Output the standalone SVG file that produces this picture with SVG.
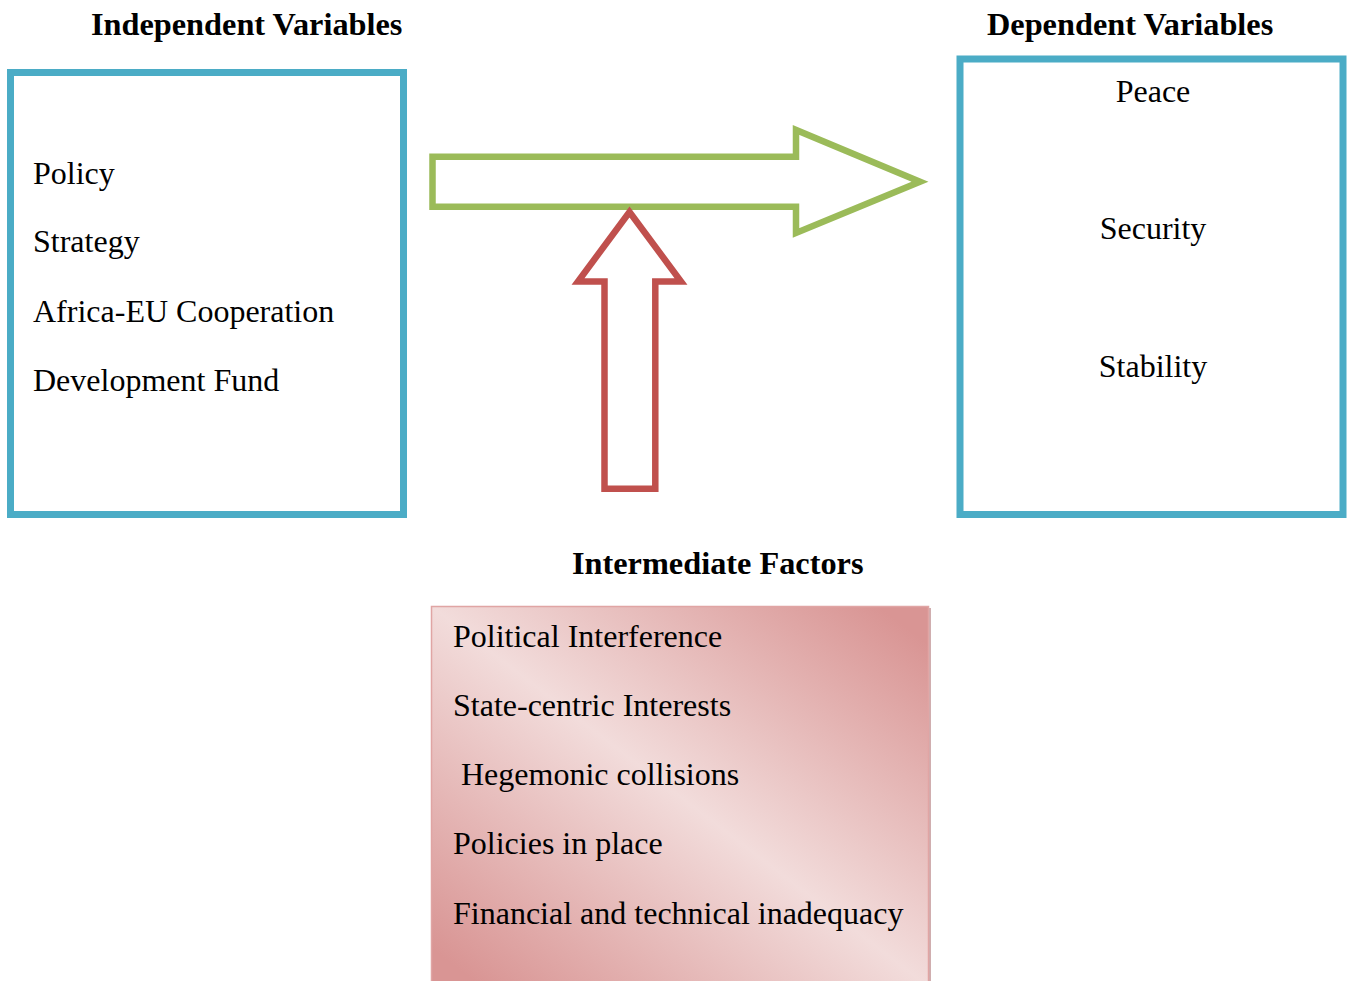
<svg xmlns="http://www.w3.org/2000/svg" width="1347" height="981" viewBox="0 0 1347 981">
<style>
.h{font-family:"Liberation Serif","Times New Roman",serif;font-weight:bold;font-size:32.3px;fill:#000}
.t{font-family:"Liberation Serif","Times New Roman",serif;font-size:32px;fill:#000}
.box{fill:#fff;stroke:#4BACC6;stroke-width:7}
.garrow{fill:#fff;stroke:#9BBB59;stroke-width:6.5}
.rarrow{fill:#fff;stroke:#C0504D;stroke-width:6.5}
</style>
<defs>
<linearGradient id="pink" x1="1" y1="0" x2="0" y2="1">
<stop offset="0.05" stop-color="#D99594"/>
<stop offset="0.5" stop-color="#F2DCDB"/>
<stop offset="0.95" stop-color="#D99594"/>
</linearGradient>
</defs>
<rect width="1347" height="981" fill="#fff"/>
<g id="independent">
<text class="h" x="91" y="35">Independent Variables</text>
<rect class="box" x="10.5" y="72.5" width="393" height="442"/>
<text class="t" x="33" y="183.5">Policy</text>
<text class="t" x="33" y="252">Strategy</text>
<text class="t" x="33" y="321.5">Africa-EU Cooperation</text>
<text class="t" x="33" y="390.5">Development Fund</text>
</g>
<g id="dependent">
<text class="h" x="987" y="35">Dependent Variables</text>
<rect class="box" x="960" y="59" width="383" height="455.5"/>
<text class="t" x="1153" y="101.5" text-anchor="middle">Peace</text>
<text class="t" x="1153" y="238.5" text-anchor="middle">Security</text>
<text class="t" x="1153" y="377" text-anchor="middle">Stability</text>
</g>
<g id="intermediate">
<text class="h" x="572" y="573.5">Intermediate Factors</text>
<rect x="433" y="608" width="498" height="380" fill="#B0787A" opacity="0.6"/>
<rect x="431.5" y="606.5" width="497" height="380" fill="url(#pink)" stroke="#E0A5A4" stroke-width="1.5"/>
<text class="t" x="453" y="646.5">Political Interference</text>
<text class="t" x="453" y="716">State-centric Interests</text>
<text class="t" x="461" y="785">Hegemonic collisions</text>
<text class="t" x="453" y="853.5">Policies in place</text>
<text class="t" x="453" y="923.5">Financial and technical inadequacy</text>
</g>
<g id="connectors">
<polygon class="garrow" points="432.5,156.7 796,156.7 796,130 920,181.7 796,233 796,206.7 432.5,206.7"/>
<polygon class="rarrow" points="629.5,212 681,281.5 655.3,281.5 655.3,488.7 604.5,488.7 604.5,281.5 578,281.5"/>
</g>
</svg>
